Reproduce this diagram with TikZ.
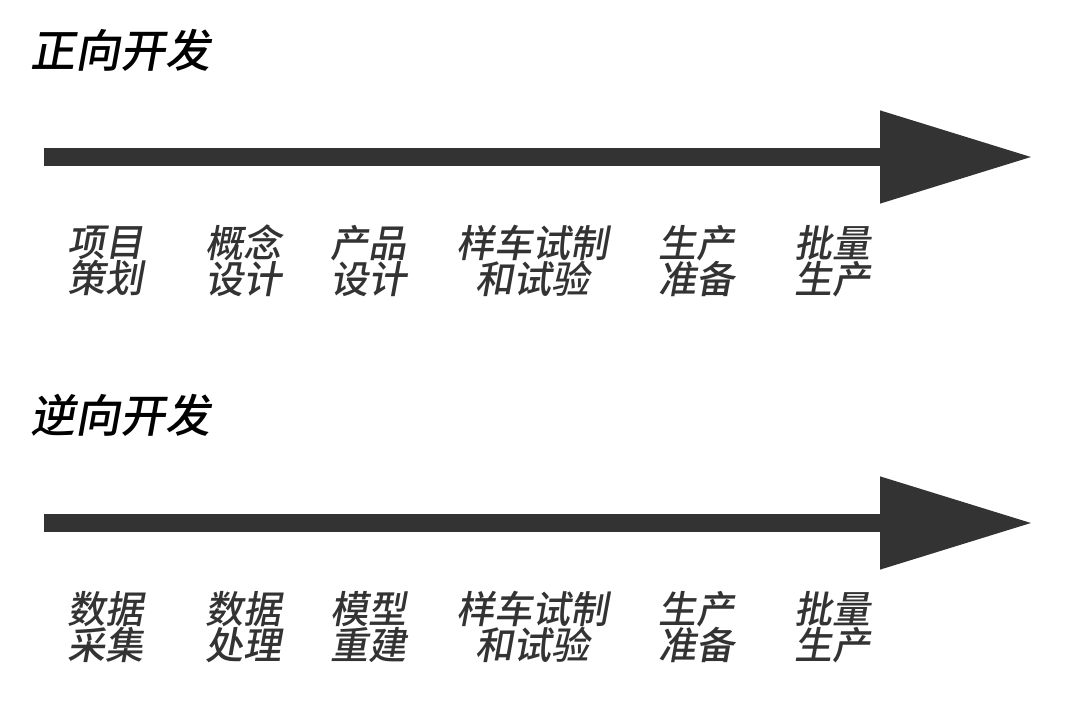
\documentclass[tikz,border=0pt]{standalone}
\usepackage{fontspec}
\newfontfamily\cjk[FakeSlant=0.18]{Noto Sans CJK SC}
\newfontfamily\cjkm[FakeSlant=0.18]{Noto Sans CJK SC Medium}
\usetikzlibrary{arrows.meta,positioning}
\definecolor{dgray}{HTML}{333333}
\begin{document}
\begin{tikzpicture}[x=1pt,y=-1pt,
  flow/.style={line width=18pt,color=dgray,-{Triangle[length=153pt,width=88pt]}},
  title/.style={font=\cjkm\fontsize{45}{45}\selectfont,anchor=west,inner sep=0pt},
  stage/.style={font=\cjkm\fontsize{38}{34}\selectfont,align=center,text=dgray,inner sep=0pt}]
\useasboundingbox (0,0) rectangle (1080,722);
% forward
\node[title] (fwd) at (30,50) {正向开发};
\coordinate (fs) at (44,157);
\coordinate (fe) at (1033,157);
\draw[flow] (fs) -- (fe);
\foreach \a/\b [count=\i] in {项目/策划,概念/设计,产品/设计,样车试制/和试验,生产/准备,批量/生产}
{
    \pgfmathsetmacro\xx{{105,243,368,532,696,832}[\i-1]}
    \node[stage] (f\i) at (\xx,261) {\a\\\b};
};
% reverse
\node[title] (rev) at (30,415) {逆向开发};
\coordinate (rs) at (44,523);
\coordinate (re) at (1033,523);
\draw[flow] (rs) -- (re);
\foreach \a/\b [count=\i] in {数据/采集,数据/处理,模型/重建,样车试制/和试验,生产/准备,批量/生产}
{
    \pgfmathsetmacro\xx{{105,243,368,532,696,832}[\i-1]}
    \node[stage] (r\i) at (\xx,627) {\a\\\b};
};
\end{tikzpicture}
\end{document}
